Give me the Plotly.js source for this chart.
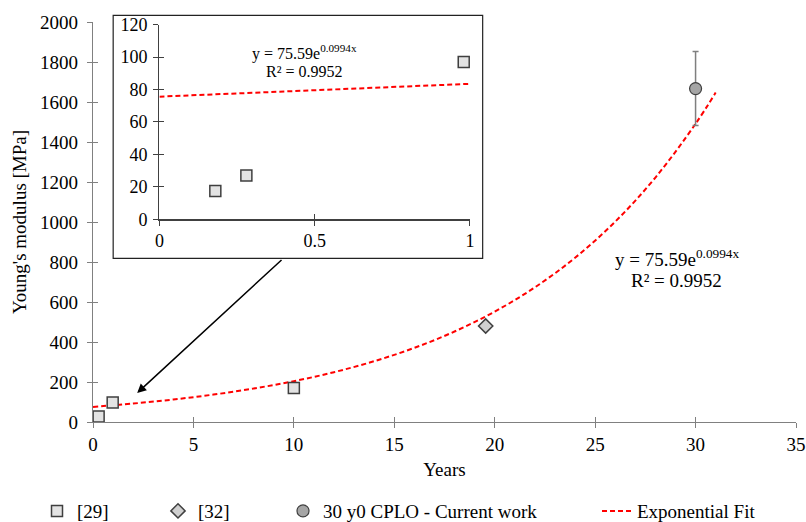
<!DOCTYPE html>
<html>
<head>
<meta charset="utf-8">
<script src="https://cdn.plot.ly/plotly-3.0.1.min.js"></script>
<style>html,body{margin:0;padding:0;background:#fff}#chart{width:806px;height:522px}</style>
</head>
<body>
<div id="chart"></div>
<script>
// ---- data ----
const ref29Years = [0.18, 0.28, 0.98, 10.0];
const ref29Modulus = [17.5, 27, 97, 170];
const ref32Years = [19.55];
const ref32Modulus = [480];
const currentYears = [30];
const currentModulus = [1667];
const currentError = [185];
const fitYears = [0, 2, 4, 6, 8, 10, 12, 14, 16, 18, 20, 22, 24, 26, 28, 30, 31];
const fitModulus = [75.6, 92.2, 112.5, 137.2, 167.4, 204.2, 249.2, 304.0, 370.8, 452.4, 551.9, 673.3, 821.3, 1001.9, 1222.3, 1491.1, 1647];
const insetFitYears = [0, 0.5, 1];
const insetFitModulus = [75.6, 79.5, 83.5];
const xTicksMain = [0, 5, 10, 15, 20, 25, 30, 35];
const yTicksMain = [0, 200, 400, 600, 800, 1000, 1200, 1400, 1600, 1800, 2000];
const xTicksInset = [0, 0.5, 1];
const xTickTextInset = ['0', '0.5', '1'];
const yTicksInset = [0, 20, 40, 60, 80, 100, 120];
const fitEquation = 'y = 75.59e<sup>0.0994x</sup>';
const fitR2 = 'R² = 0.9952';

const FONT = "'Liberation Serif', 'Times New Roman', serif";
const sqMarker = {symbol: 'square', size: 11, color: '#e3e3e3', line: {color: '#3f3f3f', width: 1.5}};
const dmMarker = {symbol: 'diamond', size: 11, color: '#d0d0d0', line: {color: '#404040', width: 1.5}};
const ciMarker = {symbol: 'circle', size: 12, color: '#a5a5a5', line: {color: '#3f3f3f', width: 1.2}};
const fitLine = {color: '#ff0000', width: 2, dash: '5px,3px'};

const traces = [
  {x: fitYears, y: fitModulus, type: 'scatter', mode: 'lines', line: Object.assign({shape: 'spline'}, fitLine),
   name: 'Exponential Fit', legend: 'legend4', xaxis: 'x', yaxis: 'y'},
  {x: ref29Years, y: ref29Modulus, type: 'scatter', mode: 'markers', marker: sqMarker,
   name: '[29]', legend: 'legend', xaxis: 'x', yaxis: 'y'},
  {x: ref32Years, y: ref32Modulus, type: 'scatter', mode: 'markers', marker: dmMarker,
   name: '[32]', legend: 'legend2', xaxis: 'x', yaxis: 'y'},
  {x: currentYears, y: currentModulus, type: 'scatter', mode: 'markers', marker: ciMarker,
   error_y: {type: 'data', array: currentError, visible: true, color: '#7f7f7f', thickness: 1.5, width: 3},
   name: '30 y0 CPLO - Current work', legend: 'legend3', xaxis: 'x', yaxis: 'y'},
  // inset
  {x: insetFitYears, y: insetFitModulus, type: 'scatter', mode: 'lines', line: fitLine,
   showlegend: false, xaxis: 'x2', yaxis: 'y2'},
  {x: ref29Years.slice(0, 3), y: ref29Modulus.slice(0, 3), type: 'scatter', mode: 'markers', marker: sqMarker,
   showlegend: false, xaxis: 'x2', yaxis: 'y2'},
  // ghost traces for inner tick marks
  {x: [], y: [], type: 'scatter', showlegend: false, xaxis: 'x3', yaxis: 'y3'},
  {x: [], y: [], type: 'scatter', showlegend: false, xaxis: 'x4', yaxis: 'y4'}
];

const tickFont = {family: FONT, size: 19, color: '#000'};
const insetFont = {family: FONT, size: 18, color: '#000'};
const mainDom = {x: [0, 1], y: [0, 1]};
const insetDomX = [0.0945, 0.5362];
const insetDomY = [0.5068, 0.9935];
const legendBase = {orientation: 'h', xref: 'container', yref: 'container', y: 0.021, yanchor: 'middle',
  xanchor: 'left', font: {family: FONT, size: 19, color: '#000'}, bgcolor: 'rgba(0,0,0,0)', borderwidth: 0};

const layout = {
  width: 806, height: 522,
  margin: {l: 92.5, r: 9.5, t: 21.7, b: 100.3},
  paper_bgcolor: '#fff', plot_bgcolor: '#fff',
  font: {family: FONT, color: '#000'},
  showlegend: true,
  legend: Object.assign({}, legendBase, {x: 37 / 806}),
  legend2: Object.assign({}, legendBase, {x: 158 / 806}),
  legend3: Object.assign({}, legendBase, {x: 283 / 806}),
  legend4: Object.assign({}, legendBase, {x: 597 / 806}),
  xaxis: {domain: mainDom.x, range: [0, 35], tickvals: xTicksMain, ticks: 'outside', ticklen: 5, tickcolor: '#808080',
    showline: true, linecolor: '#808080', linewidth: 1.3, showgrid: false, zeroline: false, tickfont: tickFont,
    title: {text: 'Years', font: {family: FONT, size: 19, color: '#000'}, standoff: 8}, anchor: 'y', fixedrange: true},
  yaxis: {domain: mainDom.y, range: [0, 2000], tickvals: yTicksMain, ticks: 'outside', ticklen: 5, tickcolor: '#808080',
    showline: true, linecolor: '#808080', linewidth: 1.3, showgrid: false, zeroline: false, tickfont: tickFont,
    ticklabelstandoff: 5,
    title: {text: "Young's modulus [MPa]", font: {family: FONT, size: 19, color: '#000'}, standoff: 8}, anchor: 'x', fixedrange: true},
  xaxis3: {domain: mainDom.x, range: [0, 35], tickvals: xTicksMain, ticks: 'inside', ticklen: 5, tickcolor: '#808080',
    showticklabels: false, showline: false, showgrid: false, zeroline: false, anchor: 'y3', overlaying: 'x'},
  yaxis3: {domain: mainDom.y, range: [0, 2000], tickvals: yTicksMain, ticks: 'inside', ticklen: 5, tickcolor: '#808080',
    showticklabels: false, showline: false, showgrid: false, zeroline: false, anchor: 'x3', overlaying: 'y'},
  xaxis2: {domain: insetDomX, range: [0, 1], tickvals: xTicksInset, ticktext: xTickTextInset, ticks: 'outside', ticklen: 5,
    tickcolor: '#404040', showline: true, linecolor: '#404040', linewidth: 1.3, showgrid: false, zeroline: false,
    tickfont: insetFont, anchor: 'y2'},
  yaxis2: {domain: insetDomY, range: [0, 120], tickvals: yTicksInset, ticks: 'outside', ticklen: 5,
    tickcolor: '#404040', showline: true, linecolor: '#404040', linewidth: 1.3, showgrid: false, zeroline: false,
    tickfont: insetFont, ticklabelstandoff: 2, anchor: 'x2'},
  xaxis4: {domain: insetDomX, range: [0, 1], tickvals: xTicksInset, ticks: 'inside', ticklen: 5, tickcolor: '#404040',
    showticklabels: false, showline: false, showgrid: false, zeroline: false, anchor: 'y4', overlaying: 'x2'},
  yaxis4: {domain: insetDomY, range: [0, 120], tickvals: yTicksInset, ticks: 'inside', ticklen: 5, tickcolor: '#404040',
    showticklabels: false, showline: false, showgrid: false, zeroline: false, anchor: 'x4', overlaying: 'y2'},
  shapes: [
    {type: 'rect', xref: 'paper', yref: 'paper', x0: 0.0287, x1: 0.5543, y0: 0.409, y1: 1.0168,
     line: {color: '#222', width: 1.2}, fillcolor: 'rgba(0,0,0,0)', layer: 'above'}
  ],
  annotations: [
    {xref: 'x', yref: 'y', x: 29.07, y: 818, text: fitEquation, showarrow: false,
     font: {family: FONT, size: 19, color: '#000'}, xanchor: 'center', yanchor: 'middle'},
    {xref: 'x', yref: 'y', x: 29.07, y: 708, text: fitR2, showarrow: false,
     font: {family: FONT, size: 19, color: '#000'}, xanchor: 'center', yanchor: 'middle'},
    {xref: 'x2', yref: 'y2', x: 0.466, y: 103, text: fitEquation, showarrow: false,
     font: {family: FONT, size: 16, color: '#000'}, xanchor: 'center', yanchor: 'middle'},
    {xref: 'x2', yref: 'y2', x: 0.466, y: 91.2, text: fitR2, showarrow: false,
     font: {family: FONT, size: 16, color: '#000'}, xanchor: 'center', yanchor: 'middle'},
    {xref: 'x', yref: 'y', x: 2.2, y: 145, ax: 9.46, ay: 817, axref: 'x', ayref: 'y', text: '',
     showarrow: true, arrowhead: 2, arrowsize: 1.2, arrowwidth: 1.5, arrowcolor: '#000'}
  ]
};

Plotly.newPlot('chart', traces, layout, {displayModeBar: false, staticPlot: true});
</script>
</body>
</html>
